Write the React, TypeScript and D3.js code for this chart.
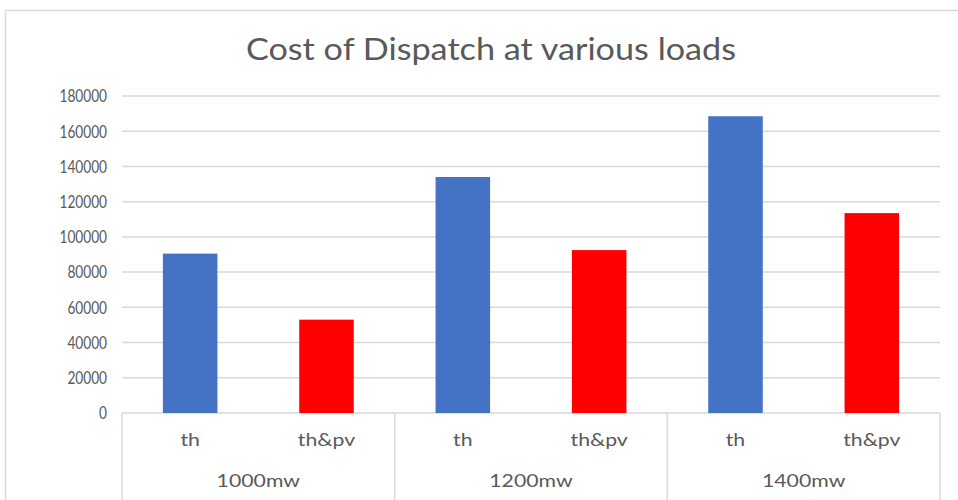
import React, { useEffect, useRef } from "react";
import * as d3 from "d3";

// chart data
const loads = ["1000mw", "1200mw", "1400mw"];
const series = ["th", "th&pv"];
const thCost = [90500, 134000, 168500];
const thPvCost = [53000, 92500, 113500];
const yTicks = [0, 20000, 40000, 60000, 80000, 100000, 120000, 140000, 160000, 180000];
const seriesColors = ["#4472C4", "#FF0000"];

const W = 958;
const H = 500;

// widen / narrow text horizontally to mimic the Calibri look of the original
function stretch(sel: d3.Selection<any, any, any, any>, factor: number) {
  sel.each(function () {
    const node = this as SVGTextElement;
    const len = node.getComputedTextLength();
    d3.select(node).attr("textLength", len * factor).attr("lengthAdjust", "spacingAndGlyphs");
  });
}

export default function App() {
  const ref = useRef<SVGSVGElement>(null);

  useEffect(() => {
    const svg = d3.select(ref.current);
    svg.selectAll("*").remove();

    const margin = { top: 96, right: 18, bottom: 87, left: 122 };
    const w = W - margin.left - margin.right;
    const h = H - margin.top - margin.bottom;
    const font = "Lato, 'Noto Sans', sans-serif";
    const grey = "#595959";
    const lineCol = "#d9d9d9";

    // chart border
    svg
      .append("rect")
      .attr("x", 5.5)
      .attr("y", 10.5)
      .attr("width", W)
      .attr("height", H)
      .attr("fill", "white")
      .attr("stroke", lineCol)
      .attr("stroke-width", 1.5);

    // title
    const title = svg
      .append("text")
      .attr("x", 491)
      .attr("y", 60)
      .attr("text-anchor", "middle")
      .style("font-family", font)
      .style("font-size", "30px")
      .attr("fill", grey)
      .text("Cost of Dispatch at various loads");
    stretch(title, 1.14);

    const g = svg.append("g").attr("transform", `translate(${margin.left}, ${margin.top})`);

    const y = d3.scaleLinear().domain([0, 180000]).range([h, 0]);

    const x0 = d3.scaleBand().domain(loads).range([0, w]);
    const x1 = d3.scaleBand().domain(series).range([0, x0.bandwidth()]).paddingInner(0.6).paddingOuter(0.3);

    // gridlines
    g.selectAll(".grid")
      .data(yTicks)
      .join("line")
      .attr("class", "grid")
      .attr("x1", 0)
      .attr("x2", w)
      .attr("y1", (d) => y(d))
      .attr("y2", (d) => y(d))
      .attr("stroke", lineCol)
      .attr("stroke-width", 1.5);

    // y tick labels
    const ylab = g
      .selectAll(".ylab")
      .data(yTicks)
      .join("text")
      .attr("class", "ylab")
      .attr("x", -15)
      .attr("y", (d) => y(d))
      .attr("dy", "0.36em")
      .attr("text-anchor", "end")
      .style("font-family", font)
      .style("font-size", "17.5px")
      .attr("fill", grey)
      .text((d) => d);
    stretch(ylab, 0.78);

    // bars
    const rows = loads.map((load, i) => ({ load, values: [thCost[i], thPvCost[i]] }));
    const grp = g
      .selectAll(".grp")
      .data(rows)
      .join("g")
      .attr("class", "grp")
      .attr("transform", (d) => `translate(${x0(d.load)}, 0)`);

    grp
      .selectAll("rect")
      .data((d) => d.values.map((v, j) => ({ key: series[j], v, j })))
      .join("rect")
      .attr("x", (d) => x1(d.key)!)
      .attr("width", x1.bandwidth())
      .attr("y", (d) => y(d.v))
      .attr("height", (d) => h - y(d.v))
      .attr("fill", (d) => seriesColors[d.j]);

    // inner category labels
    const inner = grp
      .selectAll(".inner")
      .data(series)
      .join("text")
      .attr("class", "inner")
      .attr("x", (d) => x1(d)! + x1.bandwidth() / 2)
      .attr("y", h + 27)
      .attr("dy", "0.35em")
      .attr("text-anchor", "middle")
      .style("font-family", font)
      .style("font-size", "17px")
      .attr("fill", grey)
      .text((d) => d);
    stretch(inner, 1.25);

    // outer category labels
    const outer = grp
      .append("text")
      .attr("x", x0.bandwidth() / 2)
      .attr("y", h + 68)
      .attr("dy", "0.35em")
      .attr("text-anchor", "middle")
      .style("font-family", font)
      .style("font-size", "17px")
      .attr("fill", grey)
      .text((d) => d.load);
    stretch(outer, 1.25);

    // group separators
    const seps = [...loads.map((l) => x0(l)!), w];
    g.selectAll(".sep")
      .data(seps)
      .join("line")
      .attr("class", "sep")
      .attr("x1", (d) => d)
      .attr("x2", (d) => d)
      .attr("y1", h)
      .attr("y2", h + margin.bottom + 5)
      .attr("stroke", lineCol)
      .attr("stroke-width", 1.5);
  }, []);

  return (
    <svg
      ref={ref}
      width={W}
      height={H}
      style={{ position: "absolute", left: 0, top: 0, background: "white" }}
    />
  );
}
